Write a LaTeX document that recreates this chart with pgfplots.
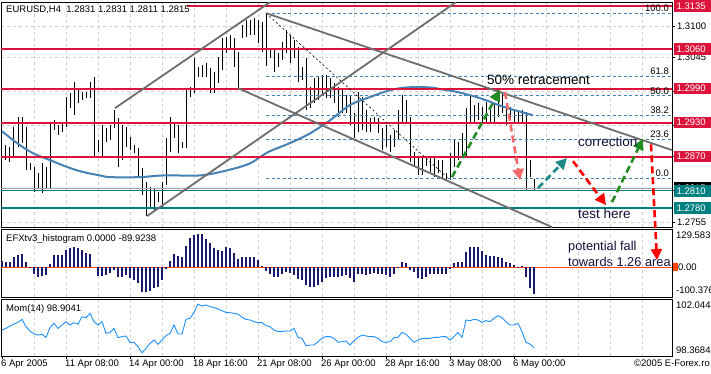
\documentclass[border=0pt]{standalone}
\usepackage{pgfplots}
\pgfplotsset{compat=1.18}
\usepackage{pgfplotstable}
\usepackage{fontspec}
\setmainfont{Liberation Sans}
\usetikzlibrary{arrows.meta}
\definecolor{crim}{HTML}{DC143C}
\definecolor{tealc}{HTML}{008080}
\definecolor{chan}{HTML}{6E6E6E}
\definecolor{steel}{HTML}{4682B4}
\definecolor{histc}{HTML}{191970}
\definecolor{zeroc}{HTML}{FF4500}
\definecolor{momc}{HTML}{1E90FF}
\definecolor{gridc}{HTML}{CFCFCF}
\definecolor{fgreen}{HTML}{228B22}
\definecolor{tarrow}{HTML}{1F8A8A}
\definecolor{lred}{HTML}{F46A6A}
\definecolor{annot}{HTML}{10103A}
\newcommand\lab{\fontsize{9.5}{10.5}\selectfont}
\newcommand\annfont{\fontsize{13.5}{15}\selectfont}
\newcommand\annfontb{\fontsize{12.8}{14}\selectfont}
\tikzset{
  pbox/.style={anchor=west, text=white, font=\lab, inner xsep=3pt, inner ysep=0pt,
    minimum height=11.5pt, text width=36pt, xshift=1.5pt},
  arr/.style={line width=2.6pt, dash pattern=on 7pt off 4pt,
    -{Triangle[length=11pt,width=11pt]}},
}

\pgfplotstableread{
i hi lo
0 1.2890 1.2841
1 1.2890 1.2864
2 1.2887 1.2861
3 1.2922 1.2869
4 1.2940 1.2887
5 1.2940 1.2894
6 1.2922 1.2846
7 1.2859 1.2846
8 1.2852 1.2808
9 1.2841 1.2815
10 1.2859 1.2806
11 1.2852 1.2815
12 1.2931 1.2815
13 1.2934 1.2917
14 1.2926 1.2908
15 1.2931 1.2913
16 1.2975 1.2922
17 1.2982 1.2956
18 1.3001 1.2943
19 1.2987 1.2964
20 1.2984 1.2970
21 1.2984 1.2973
22 1.3001 1.2973
23 1.3010 1.2869
24 1.2899 1.2878
25 1.2926 1.2868
26 1.2920 1.2896
27 1.2926 1.2899
28 1.2952 1.2920
29 1.2938 1.2852
30 1.2926 1.2864
31 1.2922 1.2887
32 1.2905 1.2882
33 1.2890 1.2876
34 1.2885 1.2834
35 1.2850 1.2802
36 1.2825 1.2765
37 1.2817 1.2781
38 1.2815 1.2776
39 1.2808 1.2790
40 1.2825 1.2780
41 1.2903 1.2820
42 1.2940 1.2878
43 1.2929 1.2903
44 1.2926 1.2876
45 1.2896 1.2885
46 1.2991 1.2885
47 1.2992 1.2975
48 1.3044 1.2982
49 1.3028 1.3010
50 1.3031 1.3010
51 1.3035 1.3010
52 1.3026 1.2982
53 1.3019 1.2982
54 1.3045 1.3000
55 1.3079 1.3022
56 1.3080 1.3052
57 1.3084 1.3061
58 1.3079 1.3028
59 1.3054 1.2991
60 1.3102 1.3079
61 1.3110 1.3080
62 1.3110 1.3084
63 1.3114 1.3084
64 1.3110 1.3070
65 1.3107 1.3054
66 1.3123 1.3030
67 1.3058 1.3044
68 1.3058 1.3019
69 1.3052 1.3028
70 1.3072 1.3040
71 1.3093 1.3052
72 1.3084 1.3035
73 1.3075 1.3044
74 1.3063 1.3001
75 1.3028 1.3005
76 1.3044 1.2952
77 1.2992 1.2956
78 1.3008 1.2964
79 1.3010 1.2970
80 1.3014 1.2978
81 1.3014 1.2973
82 1.3008 1.2973
83 1.3000 1.2964
84 1.2992 1.2940
85 1.2987 1.2947
86 1.2978 1.2947
87 1.2978 1.2926
88 1.2947 1.2903
89 1.2984 1.2913
90 1.2975 1.2917
91 1.2952 1.2913
92 1.2938 1.2913
93 1.2940 1.2929
94 1.2938 1.2912
95 1.2920 1.2882
96 1.2926 1.2887
97 1.2908 1.2878
98 1.2917 1.2887
99 1.2952 1.2899
100 1.2978 1.2929
101 1.2970 1.2929
102 1.2940 1.2861
103 1.2878 1.2852
104 1.2869 1.2838
105 1.2868 1.2838
106 1.2868 1.2853
107 1.2868 1.2843
108 1.2868 1.2834
109 1.2864 1.2841
110 1.2864 1.2832
111 1.2841 1.2829
112 1.2876 1.2829
113 1.2899 1.2852
114 1.2896 1.2864
115 1.2912 1.2868
116 1.2956 1.2868
117 1.2978 1.2929
118 1.2961 1.2929
119 1.2964 1.2934
120 1.2957 1.2929
121 1.2966 1.2931
122 1.2956 1.2929
123 1.2964 1.2929
124 1.2989 1.2940
125 1.2984 1.2947
126 1.2964 1.2926
127 1.2957 1.2934
128 1.2952 1.2931
129 1.2949 1.2929
130 1.2952 1.2931
131 1.2949 1.2811
132 1.2864 1.2834
133 1.2831 1.2811
}\bars

\pgfplotstableread{
i v
0 21
1 19
2 19
3 34
4 42
5 45
6 19
7 2
8 -23
9 -32
10 -28
11 -26
12 10
13 42
14 42
15 42
16 59
17 64
18 68
19 64
20 59
21 50
22 44
23 0
24 -28
25 -28
26 -26
27 -20
28 -9
29 -32
30 -32
31 -26
32 -37
33 -43
34 -54
35 -82
36 -82
37 -79
38 -71
39 -68
40 -43
41 -7
42 21
43 44
44 38
45 36
46 73
47 98
48 109
49 113
50 112
51 96
52 81
53 64
54 59
55 55
56 68
57 66
58 47
59 27
60 34
61 36
62 36
63 34
64 25
65 6
66 -11
67 -24
68 -34
69 -34
70 -24
71 -15
72 -20
73 -26
74 -39
75 -43
76 -60
77 -68
78 -68
79 -60
80 -48
81 -37
82 -34
83 -34
84 -32
85 -28
86 -26
87 -36
88 -48
89 -22
90 -24
91 -26
92 -24
93 -20
94 -23
95 -23
96 -26
97 -32
98 -24
99 -3
100 19
101 16
102 -9
103 -15
104 -37
105 -41
106 -32
107 -24
108 -24
109 -24
110 -24
111 -24
112 -7
113 14
114 19
115 19
116 53
117 70
118 70
119 70
120 56
121 42
122 39
123 39
124 34
125 30
126 19
127 16
128 8
129 2
130 6
131 -34
132 -69
133 -89.9238
}\hist

\pgfplotstableread{
i v
0 100.04
1 100.15
2 100.30
3 100.43
4 100.54
5 100.73
6 100.26
7 99.98
8 99.79
9 99.72
10 99.77
11 99.57
12 100.20
13 100.48
14 100.15
15 100.37
16 100.58
17 100.37
18 100.52
19 100.43
20 100.90
21 100.84
22 101.12
23 100.58
24 100.37
25 100.58
26 99.83
27 99.89
28 100.15
29 99.55
30 99.62
31 99.66
32 99.25
33 99.25
34 98.97
35 98.58
36 98.86
37 99.18
38 99.40
39 99.12
40 99.40
41 99.68
42 99.83
43 100.37
44 99.79
45 99.79
46 100.73
47 100.80
48 101.18
49 101.72
50 101.59
51 101.66
52 101.55
53 101.49
54 101.40
55 101.29
56 101.18
57 101.16
58 101.12
59 101.08
60 100.86
61 100.73
62 100.69
63 100.58
64 100.52
65 100.52
66 100.32
67 100.26
68 100.04
69 99.94
70 99.94
71 99.98
72 99.98
73 100.15
74 99.57
75 99.51
76 99.03
77 99.08
78 99.08
79 99.29
80 99.51
81 99.62
82 99.62
83 99.51
84 99.25
85 99.29
86 99.34
87 99.08
88 99.36
89 99.57
90 99.72
91 99.66
92 99.62
93 99.62
94 99.51
95 99.29
96 99.25
97 99.29
98 99.55
99 99.57
100 99.89
101 99.77
102 99.51
103 99.25
104 99.40
105 99.51
106 99.51
107 99.51
108 99.57
109 99.57
110 99.62
111 99.62
112 99.40
113 99.62
114 99.89
115 99.57
116 100.69
117 100.65
118 100.73
119 100.69
120 100.54
121 100.65
122 100.58
123 100.80
124 100.97
125 100.84
126 100.58
127 100.37
128 100.37
129 100.48
130 99.94
131 99.25
132 99.14
133 98.9041
}\mom

\begin{document}
\begin{tikzpicture}[x=1pt,y=1pt]
\path[use as bounding box] (0pt,0pt) rectangle (711pt,-374pt);
\fill[white] (0pt,0pt) rectangle (711pt,-374pt);
\pgfplotsset{
  panel/.style={scale only axis, width=671pt, anchor=north west,
    xmin=-0.25, xmax=167.5, axis line style={black, line width=0.8pt},
    grid style={gridc, dash pattern=on 3pt off 3pt, line width=0.8pt},
    clip mode=individual, tick label style={font=\lab}},
}
% ---------------- main price panel
\begin{axis}[panel, at={(1pt,-2pt)}, height=225pt,
  ymin=1.27459, ymax=1.31420,
  xtick={8,16,...,160}, xticklabels={}, xmajorgrids, x tick style={draw=none},
  ytick={1.2755,1.2810,1.2870,1.2925,1.2985,1.3045,1.3100},
  yticklabels={1.2755,1.2810,1.2870,1.2925,1.2985,1.3045,1.3100},
  ymajorgrids, ytick pos=right, yticklabel pos=right,
  y tick style={black, line width=0.6pt}, tick align=outside, major tick length=3pt,
  yticklabel style={anchor=west, xshift=-1.5pt}]
% bars
\addplot[draw=none, mark=none, error bars/.cd, y dir=plus, y explicit, error mark=none,
  error bar style={draw=black, solid, line width=1pt}]
  table[x=i, y=lo, y error expr=\thisrow{hi}-\thisrow{lo}] {\bars};
% moving average
\addplot[steel, line width=2pt, smooth] coordinates {
(0,1.2915) (3.75,1.2894) (7.75,1.2876) (12,1.2864) (16.25,1.2852) (20.25,1.2843)
(24.5,1.2837) (27,1.2834) (34.5,1.2834) (40.25,1.2837) (49.5,1.2837) (54.5,1.2843)
(59.5,1.2852) (62.5,1.2860) (66.5,1.2878) (72,1.2894) (77,1.2911) (82,1.2934)
(87,1.2961) (92,1.2975) (97,1.2987) (101.25,1.2992) (107,1.2992) (109.5,1.2989)
(113.75,1.2984) (119.5,1.2973) (125.75,1.2957) (132.75,1.2943)};
% bid line
\addplot[gridc!80!black, line width=0.8pt] coordinates {(-0.25,1.2815) (167.5,1.2815)};
% support / resistance
\addplot[crim, line width=2pt] coordinates {(46.25,1.3135) (167.5,1.3135)};
\addplot[crim, line width=2pt] coordinates {(-0.25,1.3060) (167.5,1.3060)};
\addplot[crim, line width=2pt] coordinates {(-0.25,1.2990) (167.5,1.2990)};
\addplot[crim, line width=2pt] coordinates {(-0.25,1.2930) (167.5,1.2930)};
\addplot[crim, line width=2pt] coordinates {(-0.25,1.2870) (167.5,1.2870)};
\addplot[tealc, line width=1pt] coordinates {(-0.25,1.2810) (167.5,1.2810)};
\addplot[tealc, line width=2pt] coordinates {(-0.25,1.2780) (167.5,1.2780)};
% fibonacci levels
\addplot[steel, line width=0.8pt, dash pattern=on 3pt off 2.5pt] coordinates {(66,1.31227) (167.5,1.31227)};
\addplot[steel, line width=0.8pt, dash pattern=on 3pt off 2.5pt] coordinates {(66,1.30118) (167.5,1.30118)};
\addplot[steel, line width=0.8pt, dash pattern=on 3pt off 2.5pt] coordinates {(66,1.29775) (167.5,1.29775)};
\addplot[steel, line width=0.8pt, dash pattern=on 3pt off 2.5pt] coordinates {(66,1.29432) (167.5,1.29432)};
\addplot[steel, line width=0.8pt, dash pattern=on 3pt off 2.5pt] coordinates {(66,1.29008) (167.5,1.29008)};
\addplot[steel, line width=0.8pt, dash pattern=on 3pt off 2.5pt] coordinates {(66,1.28323) (167.5,1.28323)};
\addplot[black, line width=0.6pt, dash pattern=on 2pt off 2.5pt] coordinates {(66,1.31227) (111.5,1.28323)};
% channels
\addplot[chan, line width=1.8pt] coordinates {(36.25,1.27654) (113.5,1.3142)};
\addplot[chan, line width=1.8pt] coordinates {(28.25,1.29555) (67,1.3142)};
\addplot[chan, line width=1.8pt] coordinates {(66,1.31227) (167.5,1.28816)};
\addplot[chan, line width=1.8pt] coordinates {(59,1.29907) (137.5,1.27461)};
% fib labels
\node[anchor=south east, font=\lab, inner sep=1pt] at (axis cs:167,1.31227) {100.0};
\node[anchor=south east, font=\lab, inner sep=1pt] at (axis cs:167,1.30118) {61.8};
\node[anchor=south east, font=\lab, inner sep=1pt] at (axis cs:167,1.29775) {50.0};
\node[anchor=south east, font=\lab, inner sep=1pt] at (axis cs:167,1.29432) {38.2};
\node[anchor=south east, font=\lab, inner sep=1pt] at (axis cs:167,1.29008) {23.6};
\node[anchor=south east, font=\lab, inner sep=1pt] at (axis cs:167,1.28323) {0.0};
% arrows
\draw[fgreen, arr] (axis cs:112.5,1.28341) -- (axis cs:124.5,1.29872);
\draw[lred, arr] (axis cs:125.75,1.29837) -- (axis cs:129.5,1.28288);
\draw[tarrow, arr] (axis cs:134,1.28147) -- (axis cs:141.25,1.28675);
\draw[red, arr] (axis cs:142.75,1.28622) -- (axis cs:151,1.27848);
\draw[fgreen, arr] (axis cs:152.5,1.27901) -- (axis cs:160.25,1.29015);
\draw[red, arr] (axis cs:162.25,1.28918) -- (axis cs:163.75,1.26880);
% annotations
\node[anchor=west, font=\annfont, text=black, inner sep=0pt] at (axis cs:121.25,1.30048) {50\% retracement};
\node[anchor=west, font=\annfont, text=annot, inner sep=0pt] at (axis cs:144,1.28957) {correction};
\node[anchor=west, font=\annfont, text=annot, inner sep=0pt] at (axis cs:144,1.27690) {test here};
\node[anchor=west, font=\annfontb, text=annot, inner sep=0pt] at (axis cs:141.5,1.27109) {potential fall};
\node[anchor=west, font=\annfontb, text=annot, inner sep=0pt] at (axis cs:141.5,1.26845) {towards 1.26 area};
% header
\node[anchor=west, font=\lab, inner sep=0pt] at (rel axis cs:0,1) [xshift=5pt, yshift=-8pt] {EURUSD,H4\ \ 1.2831 1.2831 1.2811 1.2815};
% price boxes
\node[pbox, fill=black] at (axis cs:167.5,1.2815) {1.2815};
\node[pbox, fill=crim] at (axis cs:167.5,1.3135) {1.3135};
\node[pbox, fill=crim] at (axis cs:167.5,1.3060) {1.3060};
\node[pbox, fill=crim] at (axis cs:167.5,1.2990) {1.2990};
\node[pbox, fill=crim] at (axis cs:167.5,1.2930) {1.2930};
\node[pbox, fill=crim] at (axis cs:167.5,1.2870) {1.2870};
\node[pbox, fill=tealc] at (axis cs:167.5,1.2810) {1.2810};
\node[pbox, fill=tealc] at (axis cs:167.5,1.2780) {1.2780};
% chart shift marker
\fill[gray!70] (axis cs:132.5,1.3142) ++(-3pt,0) -- ++(6pt,0) -- ++(-3pt,-5pt) -- cycle;
\end{axis}
% ---------------- histogram panel
\begin{axis}[panel, at={(1pt,-229pt)}, height=68pt,
  ymin=-100.376, ymax=129.5836,
  xtick={8,16,...,160}, xticklabels={}, xmajorgrids, x tick style={draw=none},
  ytick=\empty]
\addplot[zeroc, line width=1.6pt] coordinates {(-0.25,0) (167.5,0)};
\addplot[ycomb, histc, line width=1.1pt] table[x=i, y=v] {\hist};
\node[anchor=west, font=\lab, inner sep=0pt] at (rel axis cs:0,1) [xshift=5pt, yshift=-10pt] {EFXtv3\_histogram 0.0000 -89.9238};
\node[anchor=north west, font=\lab, inner sep=0pt] at (rel axis cs:1,1) [xshift=4pt, yshift=-3pt] {129.5836};
\node[anchor=south west, font=\lab, inner sep=0pt] at (rel axis cs:1,0) [xshift=4pt, yshift=3pt] {-100.376};
\fill[zeroc] (axis cs:167.5,0) ++(0.8pt,-4pt) rectangle ++(5pt,8pt);
\node[anchor=west, font=\lab, inner sep=0pt] at (axis cs:167.5,0) [xshift=6pt] {0.00};
\end{axis}
% ---------------- momentum panel
\begin{axis}[panel, at={(1pt,-299pt)}, height=57pt,
  ymin=98.3684, ymax=102.0444,
  xtick={0,16,...,128},
  xticklabels={6 Apr 2005,11 Apr 08:00,14 Apr 00:00,18 Apr 16:00,21 Apr 08:00,26 Apr 00:00,28 Apr 16:00,3 May 08:00,6 May 00:00},
  minor xtick={8,16,...,160}, xminorgrids, minor tick length=0pt,
  x tick style={black, line width=0.6pt}, tick align=outside, major tick length=3pt,
  xtick pos=bottom, ytick=\empty,
  xticklabel style={anchor=north west, inner sep=0pt, xshift=-1pt, yshift=-1pt}]
\addplot[momc, line width=0.9pt] table[x=i, y=v] {\mom};
\node[anchor=west, font=\lab, inner sep=0pt] at (rel axis cs:0,1) [xshift=5pt, yshift=-10pt] {Mom(14) 98.9041};
\node[anchor=north west, font=\lab, inner sep=0pt] at (rel axis cs:1,1) [xshift=4pt, yshift=-3pt] {102.0444};
\node[anchor=south west, font=\lab, inner sep=0pt] at (rel axis cs:1,0) [xshift=4pt, yshift=2pt] {98.3684};
\end{axis}
\node[anchor=east, font=\lab, inner sep=0pt] at (710pt,-363pt) {©2005 E-Forex.ro};
\end{tikzpicture}
\end{document}
